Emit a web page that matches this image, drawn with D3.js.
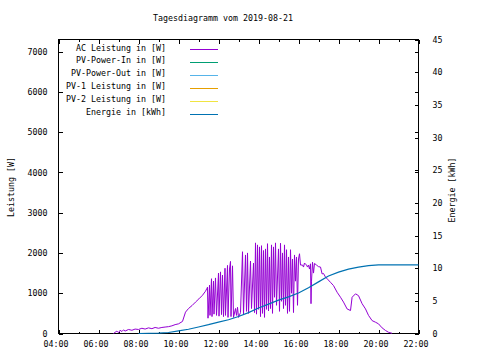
<!DOCTYPE html>
<html><head><meta charset="utf-8">
<script src="https://cdn.jsdelivr.net/npm/d3@7"></script>
<style>
body{margin:0;background:#fff}
text{font-family:"DejaVu Sans Mono",monospace;font-size:8.3px;fill:#000}
</style>
</head><body>
<svg id="c" width="480" height="360"></svg>
<script>
const title = "Tagesdiagramm vom 2019-08-21";
const yLabel = "Leistung [W]";
const y2Label = "Energie [kWh]";
const xTickHours = [4, 6, 8, 10, 12, 14, 16, 18, 20, 22];
const xTickLabels = ["04:00","06:00","08:00","10:00","12:00","14:00","16:00","18:00","20:00","22:00"];
const xMinorHours = [5, 7, 9, 11, 13, 15, 17, 19, 21];
const yTicks = [0, 1000, 2000, 3000, 4000, 5000, 6000, 7000];
const y2Ticks = [0, 5, 10, 15, 20, 25, 30, 35, 40, 45];
const legendNames = ["AC Leistung in [W]", "PV-Power-In in [W]", "PV-Power-Out in [W]", "PV-1 Leistung in [W]", "PV-2 Leistung in [W]", "Energie in [kWh]"];
const legendColors = ["#9400d3", "#009e73", "#56b4e9", "#e69f00", "#f0e442", "#0072b2"];

const acHours = [6.75,6.83,6.92,7.0,7.08,7.17,7.25,7.33,7.5,7.67,7.83,8.0,8.17,8.33,8.5,8.67,8.83,9.0,9.17,9.33,9.5,9.67,9.83,10.0,10.2,10.35,10.5,10.68,10.85,11.02,11.2,11.35,11.42,
 11.45,11.475,11.55,11.575,11.65,11.675,11.75,11.775,11.85,11.9,12.0,12.025,12.1,12.15,12.2,12.25,12.325,12.35,12.45,12.475,12.55,12.6,12.625,12.7,12.75,12.85,12.9,12.95,13.0,13.1,
 13.2,13.25,13.35,13.4,13.45,13.5,13.6,13.65,13.75,13.8,13.85,13.9,13.95,14.0,14.05,14.1,14.15,14.2,14.25,14.3,14.35,14.4,14.45,14.5,14.55,14.6,14.65,14.7,14.75,14.8,14.85,14.9,
 15.0,15.05,15.1,15.15,15.2,15.25,15.3,15.35,15.4,15.45,15.5,15.55,15.6,15.65,15.7,15.75,15.8,15.85,15.9,15.95,16.0,16.05,16.1,16.2,16.25,16.3,16.4,16.45,16.5,16.55,16.6,16.625,
 16.65,16.7,16.75,16.8,16.9,17.0,17.1,17.18,17.25,17.35,17.45,17.6,17.75,17.93,18.1,18.25,18.43,18.6,18.68,18.85,19.0,19.18,19.35,19.5,19.68,19.85,20.0,20.18,20.35,20.5,20.68];
const acWatts = [0,30,60,20,80,50,90,60,100,80,110,100,130,110,140,120,150,130,150,160,170,190,220,240,300,530,620,695,780,860,950,1050,1120,
 1150,380,1200,450,1360,420,1300,480,1380,450,1500,430,1530,470,1450,420,1620,450,1690,400,1600,1790,420,1680,400,620,450,650,400,520,
 2030,480,1950,550,2000,500,1800,620,1750,520,2250,480,2200,600,2150,420,2180,500,2060,400,2100,600,2230,560,1900,620,2200,500,2150,900,2250,700,
 2100,550,2240,800,2000,620,2200,700,2080,500,1900,550,2080,1000,1850,520,1950,1300,1900,700,1850,1980,1700,1700,1650,1750,1700,1650,1700,1600,1730,740,
 1300,1770,1500,1740,1700,1660,1650,1480,1490,1400,1350,1270,1190,1025,900,780,610,570,900,985,940,740,610,450,320,280,240,140,75,30,5];

const energyHours = [8.0,9.0,9.5,10.0,10.5,11.0,11.5,12.0,12.5,13.0,13.5,14.0,14.5,15.0,15.5,16.0,16.5,17.0,17.5,18.0,18.5,19.0,19.5,20.0,22.0];
const energyKWh = [0,0.05,0.15,0.4,0.65,1.0,1.35,1.75,2.1,2.6,3.2,3.9,4.5,5.1,5.6,6.2,7.0,7.9,8.8,9.4,9.85,10.15,10.4,10.5,10.5];

const svg = d3.select("#c");
const L = 58.5, R = 418.5, T = 39.5, B = 333.5;
const x = d3.scaleLinear().domain([4, 22]).range([L, R]);
const y = d3.scaleLinear().domain([0, 7300]).range([B, T]);
const y2 = d3.scaleLinear().domain([0, 45]).range([B, T]);

// title and axis labels
svg.append("text").attr("x", 223).attr("y", 17.5).attr("text-anchor", "middle").attr("dominant-baseline", "central").text(title);
svg.append("text").attr("transform", "translate(11,187) rotate(-90)").attr("text-anchor", "middle").attr("dominant-baseline", "central").text(yLabel);
svg.append("text").attr("transform", "translate(452,190) rotate(-90)").attr("text-anchor", "middle").attr("dominant-baseline", "central").text(y2Label);

// axes via d3
const bottomAxis = d3.axisBottom(x).tickValues(xTickHours).tickFormat((d, i) => xTickLabels[i]).tickSize(-4).tickSizeOuter(0).tickPadding(8);
const gB = svg.append("g").attr("transform", `translate(0,${B})`).call(bottomAxis);
gB.selectAll("text").attr("dx", -3);
const bottomMinor = d3.axisBottom(x).tickValues(xMinorHours).tickFormat("").tickSize(-2).tickSizeOuter(0);
svg.append("g").attr("transform", `translate(0,${B})`).call(bottomMinor);
const topAxis = d3.axisTop(x).tickValues(xTickHours).tickFormat("").tickSize(-4).tickSizeOuter(0);
svg.append("g").attr("transform", `translate(0,${T})`).call(topAxis);
const topMinor = d3.axisTop(x).tickValues(xMinorHours).tickFormat("").tickSize(-2).tickSizeOuter(0);
svg.append("g").attr("transform", `translate(0,${T})`).call(topMinor);

const leftAxis = d3.axisLeft(y).tickValues(yTicks).tickFormat(d3.format("d")).tickSize(-4).tickSizeOuter(0).tickPadding(11);
svg.append("g").attr("transform", `translate(${L},0)`).call(leftAxis);
const rightMirror = d3.axisRight(y).tickValues(yTicks).tickFormat("").tickSize(-4).tickSizeOuter(0);
svg.append("g").attr("transform", `translate(${R},0)`).call(rightMirror);
const rightAxis = d3.axisRight(y2).tickValues(y2Ticks).tickFormat(d3.format("d")).tickSize(-4).tickSizeOuter(0).tickPadding(14);
svg.append("g").attr("transform", `translate(${R},0)`).call(rightAxis);

svg.selectAll(".domain").remove();
svg.selectAll(".tick line").attr("stroke", "#000").attr("shape-rendering", "crispEdges");
svg.selectAll(".tick text").style("font-family", '"DejaVu Sans Mono",monospace').style("font-size", "8.3px").attr("fill", "#000");

// border
svg.append("rect").attr("x", L).attr("y", T).attr("width", R - L).attr("height", B - T)
  .attr("fill", "none").attr("stroke", "#000").attr("stroke-width", 1).attr("shape-rendering", "crispEdges");

// data lines
const acData = acHours.map((h, i) => [h, acWatts[i]]);
const enData = energyHours.map((h, i) => [h, energyKWh[i]]);
svg.append("path").datum(acData).attr("fill", "none").attr("stroke", legendColors[0]).attr("stroke-width", 1)
  .attr("d", d3.line().x(d => x(d[0])).y(d => y(d[1])));
svg.append("path").datum(enData).attr("fill", "none").attr("stroke", legendColors[5]).attr("stroke-width", 1.2)
  .attr("d", d3.line().x(d => x(d[0])).y(d => y2(d[1])));

// legend
const lg = svg.append("g");
legendNames.forEach((n, i) => {
  const yy = 47.5 + i * 12.9;
  lg.append("text").attr("x", 166).attr("y", yy).attr("text-anchor", "end").attr("dominant-baseline", "central").text(n);
  lg.append("line").attr("x1", 190).attr("x2", 218).attr("y1", Math.round(yy + 1.5) + 0.5).attr("y2", Math.round(yy + 1.5) + 0.5)
    .attr("stroke", legendColors[i]).attr("stroke-width", 1);
});
</script>
</body></html>
